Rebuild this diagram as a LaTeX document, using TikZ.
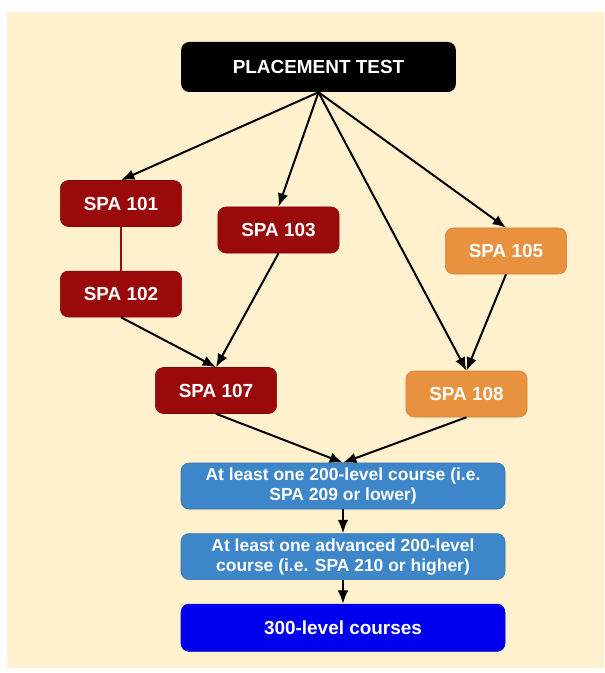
\documentclass[tikz,border=0pt]{standalone}
\usepackage{fontspec}
\setmainfont{Liberation Sans}
\usetikzlibrary{positioning,arrows.meta}
\definecolor{cream}{HTML}{FFF0CE}
\definecolor{spared}{HTML}{9A0A0A}
\definecolor{spaorange}{HTML}{E8913F}
\definecolor{spablue}{HTML}{3D86CA}
\definecolor{upperblue}{HTML}{0000EE}
\tikzset{
  course/.style={rectangle, rounded corners=6pt, text=white, align=center,
                 font=\bfseries\fontsize{14.2}{15}\selectfont,
                 minimum width=91pt, minimum height=34.5pt, inner sep=2pt},
  redbox/.style={fill=spared, draw=spared!80!black},
  orangebox/.style={fill=spaorange, draw=spaorange!90!black},
  bluebox/.style={fill=spablue, draw=spablue!85!black, minimum width=243pt,
                  font=\bfseries\fontsize{13.1}{15}\selectfont},
  fwd/.style={-{Latex[length=10pt,width=8pt]}, line width=1.5pt},
}

\begin{document}
\begin{tikzpicture}[x=0.75pt,y=-0.75pt]
  \useasboundingbox (0,0) rectangle (604,673);
  \fill[cream] (7,12) rectangle (604,668);

  \node[course, fill=black, minimum width=206pt, minimum height=37.5pt] (test) at (318.5,67) {PLACEMENT TEST};

  \node[course, redbox] (spa101) at (121,203.5) {SPA 101};
  \node[course, redbox] (spa102) [below=33pt of spa101] {SPA 102};
  \node[course, redbox] (spa103) at (278.5,230) {SPA 103};
  \node[course, orangebox] (spa105) at (506,251) {SPA 105};
  \node[course, redbox] (spa107) at (216,390.5) {SPA 107};
  \node[course, orangebox] (spa108) at (466.5,394) {SPA 108};

  \node[course, bluebox] (lower) at (343,486) {At least one 200-level course (i.e.\\SPA 209 or lower)};
  \node[course, bluebox] (advanced) [below=18pt of lower] {At least one advanced 200-level\\course (i.e. SPA 210 or higher)};
  \node[course, fill=upperblue, draw=upperblue!85!black, minimum width=243pt, minimum height=35.5pt] (upper) [below=18pt of advanced] {300-level courses};

  \draw[fwd] (test.south) -- (spa101.north);
  \draw[fwd] (test.south) -- (spa103.north);
  \draw[fwd] (test.south) -- (spa105.north);
  \draw[fwd] (test.south) -- (spa108.north);
  \draw[line width=1.5pt, spared] (spa101) -- (spa102);
  \draw[fwd] (spa102.south) -- (spa107.north);
  \draw[fwd] (spa103.south) -- (spa107.north);
  \draw[fwd] (spa105.south) -- (spa108.north);
  \draw[fwd] (spa107.south) -- (lower.north);
  \draw[fwd] (spa108.south) -- (lower.north);
  \draw[fwd] (lower) -- (advanced);
  \draw[fwd] (advanced) -- (upper);
\end{tikzpicture}
\end{document}
